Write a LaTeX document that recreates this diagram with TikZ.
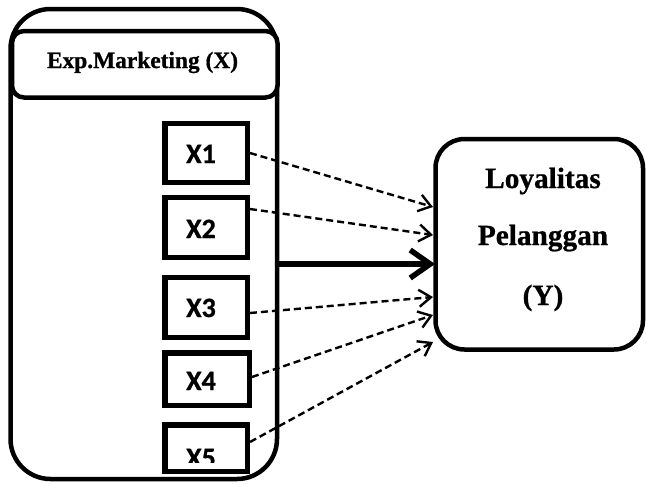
\documentclass[tikz,border=0pt]{standalone}
\usepackage{fontspec}
\setmainfont{Liberation Serif}
\newfontfamily\serifbold{Liberation Serif Bold}[FakeBold=0.8]
\newfontfamily\calibbold{Carlito Bold}[FakeBold=0.8]
\usetikzlibrary{arrows.meta,calc}

\begin{document}
\begin{tikzpicture}[x=1pt,y=-1pt,
  container/.style={draw,line width=4.5pt,rounded corners=40pt},
  headbox/.style={draw,fill=white,line width=4.5pt,rounded corners=12pt},
  xbox/.style={draw,line width=5.5pt,inner sep=0pt,minimum width=82.5pt},
  ybox/.style={draw,line width=4.5pt,rounded corners=29pt},
  xlabel/.style={font=\calibbold\fontsize{28}{30}\selectfont,anchor=base,inner sep=0pt},
  ylabel/.style={font=\serifbold\fontsize{29.3}{32}\selectfont,anchor=base,inner sep=0pt},
  dasharrow/.style={line width=2.4pt,dash pattern=on 7pt off 4pt,
    -{Straight Barb[length=12pt,width=17pt]}},
  mainarrow/.style={line width=5.5pt,-{Straight Barb[length=20pt,width=28pt]}}]

\useasboundingbox (0,0) rectangle (646,483);

% outer group holding the indicators
\draw[container] (10.5,9) rectangle (277,479);
\node[headbox,minimum width=265.5pt,minimum height=66.5pt,inner sep=0pt] (head) at (144.75,64.25) {};
\node[font=\serifbold\fontsize{23.4}{26}\selectfont,anchor=base,inner sep=0pt] (headtext) at (142.5,68) {Exp.Marketing (X)};
\coordinate (grp) at (277,264);

% indicator boxes
\node[xbox,minimum height=59pt] (x1) at (206,153) {};
\node[xbox,minimum height=60pt] (x2) at (206,227.5) {};
\node[xbox,minimum height=60pt] (x3) at (206,307.5) {};
\node[xbox,minimum width=84.5pt,minimum height=52.5pt] (x4) at (207,379) {};
\node[xbox,minimum height=46.5pt] (x5) at (206,448) {};

\node[xlabel] (l1) at (201,163) {X1};
\node[xlabel] (l2) at (201,238) {X2};
\node[xlabel] (l3) at (201,317) {X3};
\node[xlabel] (l4) at (201,390) {X4};
\begin{scope}
  \clip (0,0) rectangle (646,462);
  \node[xlabel] (l5) at (201,467) {X5};
\end{scope}

% dependent variable
\node[ybox,minimum width=207.5pt,minimum height=210.5pt,inner sep=0pt] (Y) at (539.25,244.25) {};
\node[ylabel] (y1) at (543,188) {Loyalitas};
\node[ylabel] (y2) at (543,245) {Pelanggan};
\node[ylabel] (y3) at (543,305) {(Y)};

% arrow tips on the left side of Y
\coordinate (t1) at (433,207);
\coordinate (t2) at (433,235);
\coordinate (t3) at (433,297);
\coordinate (t4) at (433,315);
\coordinate (t5) at (433,342);
\coordinate (tm) at (435,264);

\draw[mainarrow] (grp) -- (tm);
\draw[dasharrow] (x1.east) -- (t1);
\draw[dasharrow] ([yshift=18.5pt]x2.east) -- (t2);
\draw[dasharrow] ([yshift=-5.5pt]x3.east) -- (t3);
\draw[dasharrow] ([yshift=2pt]x4.east) -- (t4);
\draw[dasharrow] ([yshift=6pt]x5.east) -- (t5);

\end{tikzpicture}
\end{document}
